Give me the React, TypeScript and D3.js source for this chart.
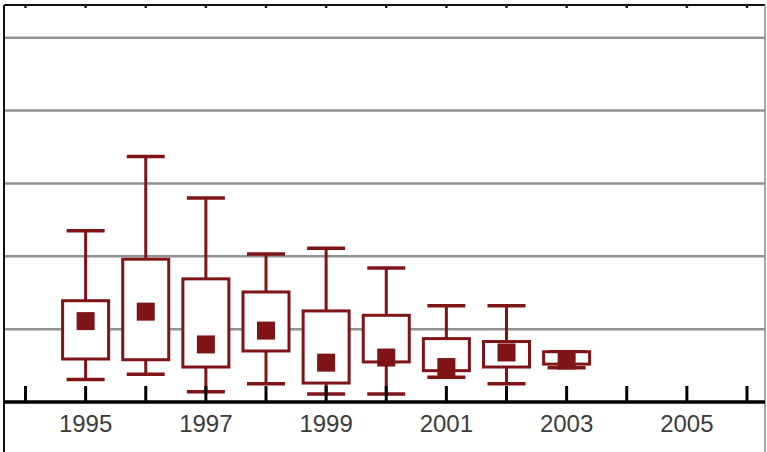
import React, { useRef, useEffect } from 'react';
import * as d3 from 'd3';

// box stats per year: [low whisker, q1, median, q3, high whisker]
const years = [1995, 1996, 1997, 1998, 1999, 2000, 2001, 2002, 2003];
const lows = [0.31, 0.38, 0.14, 0.25, 0.11, 0.11, 0.34, 0.25, 0.47];
const q1s = [0.59, 0.58, 0.48, 0.70, 0.26, 0.55, 0.43, 0.48, 0.52];
const medians = [1.11, 1.24, 0.79, 0.98, 0.54, 0.61, 0.48, 0.68, 0.57];
const q3s = [1.39, 1.96, 1.69, 1.51, 1.25, 1.19, 0.87, 0.83, 0.69];
const highs = [2.35, 3.37, 2.80, 2.03, 2.11, 1.84, 1.32, 1.32, 0.69];

const tickYears = d3.range(1994, 2007);
const labelYears = [1995, 1997, 1999, 2001, 2003, 2005];
const gridValues = [1, 2, 3, 4, 5];

const BoxChart: React.FC = () => {
  const svgRef = useRef<SVGSVGElement>(null);

  const width = 767;
  const height = 452;
  const red = '#7f1417';

  useEffect(() => {
    if (!svgRef.current) return;
    const svg = d3.select(svgRef.current);
    svg.selectAll('*').remove();

    const x = d3.scaleLinear().domain([1994, 2006]).range([25.5, 747]);
    const y = d3.scaleLinear().domain([0, 5]).range([402, 37.7]);

    const left = 4;
    const right = 765;
    const top = 5;

    // Grid
    svg.append('g')
      .selectAll('line')
      .data(gridValues)
      .enter()
      .append('line')
      .attr('x1', left)
      .attr('x2', right)
      .attr('y1', d => y(d))
      .attr('y2', d => y(d))
      .attr('stroke', '#929292')
      .attr('stroke-width', 2.5);

    // Frame
    svg.append('line')
      .attr('x1', left).attr('x2', right)
      .attr('y1', top).attr('y2', top)
      .attr('stroke', '#111').attr('stroke-width', 2);
    svg.append('line')
      .attr('x1', left).attr('x2', left)
      .attr('y1', top).attr('y2', height)
      .attr('stroke', '#111').attr('stroke-width', 2);
    svg.append('line')
      .attr('x1', right).attr('x2', right)
      .attr('y1', top).attr('y2', height)
      .attr('stroke', '#8a8a8a').attr('stroke-width', 1.5);

    // top minor ticks
    svg.append('g')
      .selectAll('line')
      .data(tickYears)
      .enter()
      .append('line')
      .attr('x1', d => x(d)).attr('x2', d => x(d))
      .attr('y1', top).attr('y2', top + 3)
      .attr('stroke', '#222').attr('stroke-width', 2.5);

    // Boxes
    const data = years.map((yr, i) => ({
      yr, lo: lows[i], q1: q1s[i], med: medians[i], q3: q3s[i], hi: highs[i]
    }));
    const boxW = 46;
    const capW = 38;
    const medS = 18;

    const g = svg.append('g');
    const box = g.selectAll('g.box')
      .data(data)
      .enter()
      .append('g')
      .attr('class', 'box');

    box.append('line')
      .attr('x1', d => x(d.yr)).attr('x2', d => x(d.yr))
      .attr('y1', d => y(d.hi)).attr('y2', d => y(d.lo))
      .attr('stroke', red).attr('stroke-width', 3);
    box.append('line')
      .attr('x1', d => x(d.yr) - capW / 2).attr('x2', d => x(d.yr) + capW / 2)
      .attr('y1', d => y(d.hi)).attr('y2', d => y(d.hi))
      .attr('stroke', red).attr('stroke-width', 3.5);
    box.append('line')
      .attr('x1', d => x(d.yr) - capW / 2).attr('x2', d => x(d.yr) + capW / 2)
      .attr('y1', d => y(d.lo)).attr('y2', d => y(d.lo))
      .attr('stroke', red).attr('stroke-width', 3.5);
    box.append('rect')
      .attr('x', d => x(d.yr) - boxW / 2)
      .attr('width', boxW)
      .attr('y', d => y(d.q3))
      .attr('height', d => y(d.q1) - y(d.q3))
      .attr('fill', 'white')
      .attr('stroke', red)
      .attr('stroke-width', 3);
    box.append('rect')
      .attr('x', d => x(d.yr) - medS / 2)
      .attr('y', d => y(d.med) - medS / 2)
      .attr('width', medS)
      .attr('height', medS)
      .attr('fill', red);

    // Bottom axis
    svg.append('line')
      .attr('x1', left).attr('x2', right)
      .attr('y1', y(0)).attr('y2', y(0))
      .attr('stroke', '#000').attr('stroke-width', 3.5);
    svg.append('g')
      .selectAll('line')
      .data(tickYears)
      .enter()
      .append('line')
      .attr('x1', d => x(d)).attr('x2', d => x(d))
      .attr('y1', y(0)).attr('y2', y(0) - 16)
      .attr('stroke', '#000').attr('stroke-width', 3);

    svg.append('g')
      .selectAll('text')
      .data(labelYears)
      .enter()
      .append('text')
      .attr('x', d => x(d))
      .attr('y', 432)
      .attr('text-anchor', 'middle')
      .attr('font-family', 'Liberation Sans, Arial, sans-serif')
      .attr('font-size', 24)
      .attr('fill', '#3c3c3c')
      .text(d => String(d));
  }, []);

  return (
    <svg
      ref={svgRef}
      width={width}
      height={height}
      style={{ position: 'absolute', left: 0, top: 0, background: 'white' }}
    />
  );
};

export default function App() {
  return <BoxChart />;
}
